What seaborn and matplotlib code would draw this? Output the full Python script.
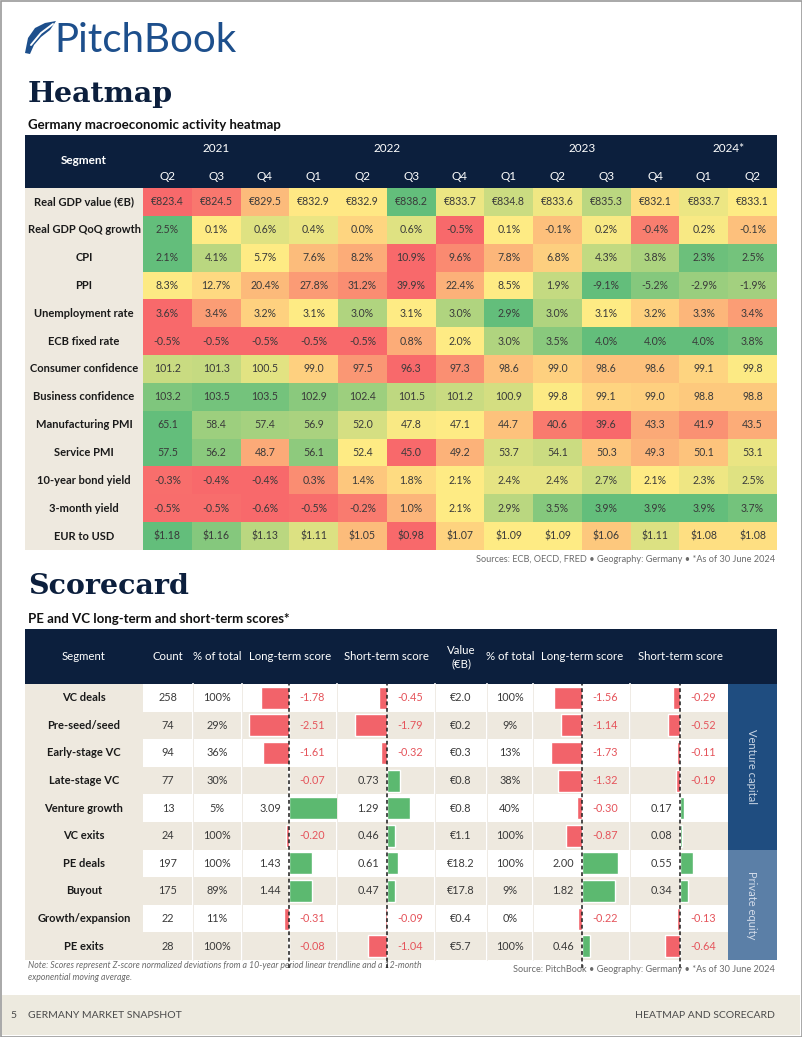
import numpy as np
import pandas as pd
import matplotlib.pyplot as plt
from matplotlib.colors import LinearSegmentedColormap
from matplotlib.patches import Rectangle, Polygon
import seaborn as sns

sns.set_theme(style="white")
plt.rcParams['font.family'] = ['Lato', 'DejaVu Sans']

# ---------------- heatmap data ----------------
quarters = ['Q2', 'Q3', 'Q4', 'Q1', 'Q2', 'Q3', 'Q4', 'Q1', 'Q2', 'Q3', 'Q4', 'Q1', 'Q2']
years = ['2021', '2022', '2023', '2024*']
year_cols = [(0, 2), (3, 6), (7, 10), (11, 12)]

metrics = ['Real GDP value (€B)', 'Real GDP QoQ growth', 'CPI', 'PPI', 'Unemployment rate',
           'ECB fixed rate', 'Consumer confidence', 'Business confidence', 'Manufacturing PMI',
           'Service PMI', '10-year bond yield', '3-month yield', 'EUR to USD']
gdp_value = [823.4, 824.5, 829.5, 832.9, 832.9, 838.2, 833.7, 834.8, 833.6, 835.3, 832.1, 833.7, 833.1]
gdp_growth = [2.5, 0.1, 0.6, 0.4, 0.0, 0.6, -0.5, 0.1, -0.1, 0.2, -0.4, 0.2, -0.1]
cpi = [2.1, 4.1, 5.7, 7.6, 8.2, 10.9, 9.6, 7.8, 6.8, 4.3, 3.8, 2.3, 2.5]
ppi = [8.3, 12.7, 20.4, 27.8, 31.2, 39.9, 22.4, 8.5, 1.9, -9.1, -5.2, -2.9, -1.9]
unemployment = [3.6, 3.4, 3.2, 3.1, 3.0, 3.1, 3.0, 2.9, 3.0, 3.1, 3.2, 3.3, 3.4]
ecb_rate = [-0.5, -0.5, -0.5, -0.5, -0.5, 0.8, 2.0, 3.0, 3.5, 4.0, 4.0, 4.0, 3.8]
consumer_conf = [101.2, 101.3, 100.5, 99.0, 97.5, 96.3, 97.3, 98.6, 99.0, 98.6, 98.6, 99.1, 99.8]
business_conf = [103.2, 103.5, 103.5, 102.9, 102.4, 101.5, 101.2, 100.9, 99.8, 99.1, 99.0, 98.8, 98.8]
manufacturing_pmi = [65.1, 58.4, 57.4, 56.9, 52.0, 47.8, 47.1, 44.7, 40.6, 39.6, 43.3, 41.9, 43.5]
service_pmi = [57.5, 56.2, 48.7, 56.1, 52.4, 45.0, 49.2, 53.7, 54.1, 50.3, 49.3, 50.1, 53.1]
bond_10y = [-0.3, -0.4, -0.4, 0.3, 1.4, 1.8, 2.1, 2.4, 2.4, 2.7, 2.1, 2.3, 2.5]
yield_3m = [-0.5, -0.5, -0.6, -0.5, -0.2, 1.0, 2.1, 2.9, 3.5, 3.9, 3.9, 3.9, 3.7]
eur_usd = [1.18, 1.16, 1.13, 1.11, 1.05, 0.98, 1.07, 1.09, 1.09, 1.06, 1.11, 1.08, 1.08]

heat_rows = [gdp_value, gdp_growth, cpi, ppi, unemployment, ecb_rate, consumer_conf,
             business_conf, manufacturing_pmi, service_pmi, bond_10y, yield_3m, eur_usd]
row_fmt = ['€{:.1f}', '{:.1f}%', '{:.1f}%', '{:.1f}%', '{:.1f}%', '{:.1f}%', '{:.1f}',
           '{:.1f}', '{:.1f}', '{:.1f}', '{:.1f}%', '{:.1f}%', '${:.2f}']
higher_better = [True, True, False, False, False, True, True, True, True, True, True, True, True]
scale_anchors = [None, None, None, None, None, None, (96.3, 99.7, 104.0), (96.3, 99.7, 104.0),
                 None, None, (-0.4, 2.1, 4.0), None, None]

# ---------------- scorecard data ----------------
segments = ['VC deals', 'Pre-seed/seed', 'Early-stage VC', 'Late-stage VC', 'Venture growth',
            'VC exits', 'PE deals', 'Buyout', 'Growth/expansion', 'PE exits']
deal_count = [258, 74, 94, 77, 13, 24, 197, 175, 22, 28]
count_pct = [100, 29, 36, 30, 5, 100, 100, 89, 11, 100]
count_long = [-1.78, -2.51, -1.61, -0.07, 3.09, -0.20, 1.43, 1.44, -0.31, -0.08]
count_short = [-0.45, -1.79, -0.32, 0.73, 1.29, 0.46, 0.61, 0.47, -0.09, -1.04]
deal_value = [2.0, 0.2, 0.3, 0.8, 0.8, 1.1, 18.2, 17.8, 0.4, 5.7]
value_pct = [100, 9, 13, 38, 40, 100, 100, 9, 0, 100]
value_long = [-1.56, -1.14, -1.73, -1.32, -0.30, -0.87, 2.00, 1.82, -0.22, 0.46]
value_short = [-0.29, -0.52, -0.11, -0.19, 0.17, 0.08, 0.55, 0.34, -0.13, -0.64]

# colours
NAVY = '#0c1f3d'
BEIGE = '#eee9df'
RED = '#f8696b'
YELLOW = '#ffeb84'
GREEN = '#63be7b'
BAR_RED = '#f2636a'
BAR_GREEN = '#5cb970'
TXT = '#3a3a3a'

W, H = 802, 1037
fig = plt.figure(figsize=(W / 100, H / 100), dpi=100)
page = fig.add_axes([0, 0, 1, 1])
page.set_xlim(0, W)
page.set_ylim(H, 0)
page.axis('off')


def box(x0, y0, x1, y1):
    return [x0 / W, 1 - y1 / H, (x1 - x0) / W, (y1 - y0) / H]


def rect(x0, y0, x1, y1, color, **kw):
    page.add_patch(Rectangle((x0, y0), x1 - x0, y1 - y0, facecolor=color, edgecolor='none', **kw))


def txt(x, y, s, **kw):
    kw.setdefault('va', 'center')
    page.text(x, y, s, **kw)


# page frame
page.add_patch(Rectangle((0.5, 0.5), W - 1, H - 1, fill=False, edgecolor='#9a9a9a', lw=1.2))

# logo
LOGO = '#1d4f8c'
page.add_patch(Polygon([(25, 53), (28, 38), (35, 28), (45, 23), (56, 21), (50, 30), (41, 37),
                        (34, 45), (30, 54)], closed=True, facecolor=LOGO, edgecolor='none'))
page.plot([31, 41, 53], [45, 33, 24], color='white', lw=1.4)
page.plot([35, 44, 54], [46, 37, 29], color='white', lw=1.0)
txt(54, 40, 'PitchBook', fontsize=29, color=LOGO)

# ---------------- heatmap section ----------------
txt(28, 95, 'Heatmap', fontsize=20.5, fontweight='bold', color=NAVY, family='DejaVu Serif')
txt(28, 125, 'Germany macroeconomic activity heatmap', fontsize=9.5, fontweight='bold', color='#111')

hx0, hx1, hy0, hy1 = 143, 777, 188, 550
rect(25, 135, 777, hy0, NAVY)
rect(25, hy0, hx0, hy1, BEIGE)
cw = (hx1 - hx0) / len(quarters)
rh = (hy1 - hy0) / len(metrics)
txt(84, 161, 'Segment', fontsize=8.5, fontweight='bold', color='white', ha='center')
for (a, b), y in zip(year_cols, years):
    txt(hx0 + cw * ((a + b) / 2 + 0.5), 148, y, fontsize=8.5, color='white', ha='center')
for i, q in enumerate(quarters):
    txt(hx0 + cw * (i + 0.5), 176, q, fontsize=8.5, color='white', ha='center')
for i, m in enumerate(metrics):
    txt(84, hy0 + rh * (i + 0.5), m, fontsize=8, fontweight='bold', color='#1a1a1a', ha='center')


def excel_scale(vals, higher, anchors):
    v = np.array(vals, dtype=float)
    lo, med, hi = anchors if anchors else (v.min(), np.median(v), v.max())
    t = np.where(v <= med,
                 0.5 * (v - lo) / (med - lo if med > lo else 1),
                 0.5 + 0.5 * (v - med) / (hi - med if hi > med else 1))
    t = np.clip(t, 0, 1)
    return t if higher else 1 - t


scaled = pd.DataFrame([excel_scale(r, hb, an) for r, hb, an in
                       zip(heat_rows, higher_better, scale_anchors)], index=metrics)
labels = np.array([[f.format(v) for v in r] for r, f in zip(heat_rows, row_fmt)])
cmap = LinearSegmentedColormap.from_list('ryg', [RED, YELLOW, GREEN])

hax = fig.add_axes(box(hx0, hy0, hx1, hy1))
sns.heatmap(scaled, cmap=cmap, vmin=0, vmax=1, annot=labels, fmt='', cbar=False,
            xticklabels=False, yticklabels=False, linewidths=0, ax=hax,
            annot_kws={'fontsize': 7.6, 'color': TXT})

txt(775, 559, 'Sources: ECB, OECD, FRED • Geography: Germany • *As of 30 June 2024',
    fontsize=6.6, color='#6a6a6a', ha='right')

# ---------------- scorecard section ----------------
txt(28, 586, 'Scorecard', fontsize=20.5, fontweight='bold', color=NAVY, family='DejaVu Serif')
txt(28, 619, 'PE and VC long-term and short-term scores*', fontsize=9.5, fontweight='bold', color='#111')

sy0, sy1 = 684, 960
srh = (sy1 - sy0) / len(segments)
rect(25, 629, 777, sy0, NAVY)
rect(25, sy0, 143, sy1, BEIGE)
for i in range(len(segments)):
    rect(143, sy0 + srh * i, 728, sy0 + srh * (i + 1), 'white' if i % 2 == 0 else BEIGE)
for xs in [193, 242, 337, 435, 487, 533, 630]:
    page.plot([xs, xs], [sy0, sy1], color='white', lw=1.5)
    page.plot([xs, xs], [sy0, sy1], color='#ece8e0', lw=0.6)

rect(728, sy0, 777, sy0 + srh * 6, '#1f4d80')
rect(728, sy0 + srh * 6, 777, sy1, '#5b7fa7')
txt(752, sy0 + srh * 3, 'Venture capital', fontsize=8, color='#c9d5e4', ha='center', rotation=270)
txt(752, sy0 + srh * 8, 'Private equity', fontsize=8, color='#d3dcea', ha='center', rotation=270)

heads = [(84, 'Segment'), (168, 'Count'), (217, '% of total'), (290, 'Long-term score'),
         (386, 'Short-term score'), (461, 'Value\n(€B)'), (510, '% of total'),
         (582, 'Long-term score'), (680, 'Short-term score')]
for x, s in heads:
    txt(x, 657, s, fontsize=8.2, color='white', ha='center', linespacing=1.3)

for i, seg in enumerate(segments):
    y = sy0 + srh * (i + 0.5)
    txt(84, y, seg, fontsize=8, fontweight='bold', color='#1a1a1a', ha='center')
    txt(168, y, str(deal_count[i]), fontsize=7.8, color=TXT, ha='center')
    txt(217, y, f'{count_pct[i]}%', fontsize=7.8, color=TXT, ha='center')
    txt(461, y, f'€{deal_value[i]:.1f}', fontsize=7.8, color=TXT, ha='center')
    txt(510, y, f'{value_pct[i]}%', fontsize=7.8, color=TXT, ha='center')

score_cols = [(count_long, 242, 337, 289, 16), (count_short, 337, 435, 387, 18),
              (value_long, 533, 630, 582, 18), (value_short, 630, 728, 680, 23)]
for vals, x0, x1, zero, k in score_cols:
    bax = fig.add_axes(box(x0, sy0, x1, sy1))
    df = pd.DataFrame({'segment': segments, 'score': vals,
                       'sign': ['pos' if v >= 0 else 'neg' for v in vals]})
    sns.barplot(data=df, x='score', y='segment', hue='sign',
                palette={'pos': BAR_GREEN, 'neg': BAR_RED}, dodge=False, legend=False,
                width=0.8, saturation=1, ax=bax)
    bax.set_xlim((x0 - zero) / k, (x1 - zero) / k)
    bax.set_ylim(len(segments) - 0.5, -0.5)
    bax.axvline(0, ymin=-0.03, ymax=1, color='#1a1a1a', ls=(0, (2.5, 1.8)), lw=1.1, clip_on=False)
    for j, v in enumerate(vals):
        if v < 0:
            bax.text(10 / k, j, f'{v:.2f}', ha='left', va='center', fontsize=7.8, color='#e5545b')
        else:
            bax.text(-8 / k, j, f'{v:.2f}', ha='right', va='center', fontsize=7.8, color=TXT)
    bax.axis('off')

txt(28, 965, 'Note: Scores represent Z-score normalized deviations from a 10-year period linear trendline and a 12-month',
    fontsize=6.3, style='italic', color='#6a6a6a')
txt(28, 977, 'exponential moving average.', fontsize=6.3, style='italic', color='#6a6a6a')
txt(775, 969, 'Source: PitchBook • Geography: Germany • *As of 30 June 2024',
    fontsize=6.6, color='#6a6a6a', ha='right')

# footer
rect(2, 995, W - 2, H - 2, '#edeadf')
txt(10, 1015, '5', fontsize=7.5, color='#4a4a4a')
txt(28, 1015, 'GERMANY MARKET SNAPSHOT', fontsize=7.5, color='#4a4a4a')
txt(775, 1015, 'HEATMAP AND SCORECARD', fontsize=7.5, color='#4a4a4a', ha='right')

plt.savefig('out.png', dpi=100)
